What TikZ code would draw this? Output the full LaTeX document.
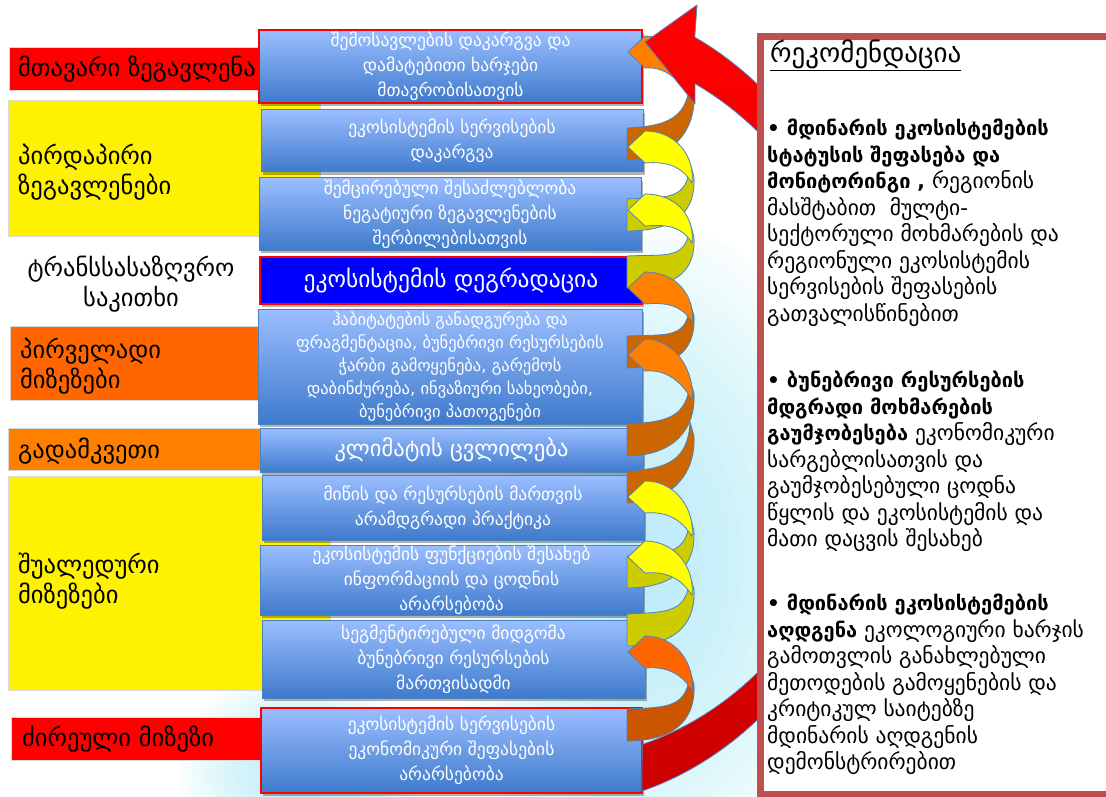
\documentclass[tikz,border=0pt]{standalone}
\usepackage{fontspec}
\setmainfont{DejaVu Sans}
\usetikzlibrary{shadows,calc}
\definecolor{boxtop}{RGB}{155,190,255}
\definecolor{boxbot}{RGB}{62,122,204}
\definecolor{boxline}{RGB}{79,129,189}
\definecolor{orf}{RGB}{255,128,0}
\definecolor{orb}{RGB}{204,102,0}
\definecolor{yef}{RGB}{255,255,0}
\definecolor{yeb}{RGB}{204,204,0}
\definecolor{ortf}{RGB}{255,102,0}
\definecolor{ortb}{RGB}{204,85,0}
\definecolor{recline}{RGB}{192,80,77}
\definecolor{glow}{RGB}{170,236,250}
\definecolor{darkred}{RGB}{204,0,0}
\definecolor{lorange}{RGB}{255,102,0}
\definecolor{morange}{RGB}{255,128,0}
\definecolor{pureblue}{RGB}{0,0,255}
\tikzset{
 bbox/.style={draw=boxline, line width=1pt, top color=boxtop, bottom color=boxbot, text=white, align=center, inner sep=0pt, font=\fontsize{17.5}{25}\selectfont, drop shadow={shadow xshift=2pt,shadow yshift=-3pt,opacity=0.3,fill=black}},
 redbox/.style={bbox, draw=red, line width=1.5pt},
 lbox/.style={draw=black!15, line width=0.6pt, anchor=north west, inner sep=0pt},
 ltxt/.style={font=\fontsize{24.5}{30}\selectfont, align=left, inner sep=0pt, anchor=west},
 rtxt/.style={font=\fontsize{21.5}{26.5}\selectfont, align=left, inner sep=0pt, anchor=north west},
 rib/.style={draw=boxline, line width=0.8pt, line join=round},
 glowlayer/.style={fill=glow, opacity=0.06},
}
\newcommand\bt[1]{{\fontsize{20}{26.5}\selectfont\bfseries #1}}
\newcommand\ribbon[4]{%
 \pgfmathsetmacro\yh{#1}\pgfmathsetmacro\yt{#2}\pgfmathsetmacro\ym{(#1+#2)/2}%
 \filldraw[rib, fill=#4] (627,\yt-16) .. controls (668,\yt-18) and (688,\ym+20) .. (690,\ym-18) -- (694,\ym-4) .. controls (696,\ym+35) and (670,\yt+16) .. (627,\yt+16) -- cycle;
 \filldraw[rib, fill=#3] (628,\yh) -- (645,\yh-16) .. controls (676,\yh-16) and (695,\ym-25) .. (692,\ym+2) .. controls (682,\ym-14) and (668,\yh+14) .. (645,\yh+16) -- cycle;
}
\newcommand\backribbon[3]{%
 \pgfmathsetmacro\ym{#1}\pgfmathsetmacro\yt{#2}%
 \filldraw[rib, fill=#3] (627,\yt-16) .. controls (668,\yt-18) and (688,\ym+20) .. (690,\ym-18) -- (694,\ym-4) .. controls (696,\ym+35) and (670,\yt+16) .. (627,\yt+16) -- cycle;
}
\begin{document}
\begin{tikzpicture}[x=1pt,y=-1pt]
\useasboundingbox (0,0) rectangle (1106,797);
\fill[white] (0,0) rectangle (1106,797);
% background glow
\foreach \i in {1,...,20}{
 \fill[glowlayer] (650,560) ellipse [x radius={205*\i/20}, y radius={340*\i/20}];
 \fill[glowlayer] (300,770) ellipse [x radius={120*\i/20}, y radius={100*\i/20}];
}
% left label boxes
\node[lbox, fill=red, minimum width=291pt, minimum height=43pt] (l1) at (9,47) {};
\node[lbox, fill=yellow, minimum width=312pt, minimum height=136pt] (l2) at (8,100) {};
\node[lbox, fill=lorange, minimum width=290pt, minimum height=74pt] (l4) at (10,326) {};
\node[lbox, fill=morange, minimum width=292pt, minimum height=42pt] (l5) at (8,428) {};
\node[lbox, fill=yellow, minimum width=322pt, minimum height=214pt] (l6) at (8,476) {};
\node[lbox, fill=red, minimum width=289pt, minimum height=43pt] (l7) at (11,717) {};
\node[ltxt] (t1) at (18,69) {მთავარი ზეგავლენა};
\node[ltxt] (t2) at (18,172) {პირდაპირი\\ზეგავლენები};
\node[ltxt, anchor=center, align=center] (t3) at (131,284) {ტრანსსასაზღვრო\\საკითხი};
\node[ltxt] (t4) at (20,366) {პირველადი\\მიზეზები};
\node[ltxt] (t5) at (18,451) {გადამკვეთი};
\node[ltxt] (t6) at (18,581) {შუალედური\\მიზეზები};
\node[ltxt] (t7) at (22,739) {ძირეული მიზეზი};
% blue boxes
\node[redbox, minimum width=383pt, minimum height=73pt] (b1) at (450.5,66.5) {შემოსავლების დაკარგვა და\\დამატებითი ხარჯები\\მთავრობისათვის};
\node[bbox, minimum width=382pt, minimum height=62pt] (b2) at (452,141) {ეკოსისტემის სერვისების\\დაკარგვა};
\node[bbox, minimum width=382pt, minimum height=72pt] (b3) at (450,214) {შემცირებული შესაძლებლობა\\ნეგატიური ზეგავლენების\\შერბილებისათვის};
\node[bbox, draw=red, line width=1.5pt, fill=pureblue, top color=pureblue, bottom color=pureblue, minimum width=382pt, minimum height=47pt, font=\fontsize{23.5}{25}\selectfont] (b4) at (451,280.5) {ეკოსისტემის დეგრადაცია};
\node[bbox, minimum width=384pt, minimum height=115pt, font=\fontsize{16.5}{23}\selectfont] (b5) at (450,366.5) {ჰაბიტატების განადგურება და\\ფრაგმენტაცია, ბუნებრივი რესურსების\\ჭარბი გამოყენება, გარემოს\\დაბინძურება, ინვაზიური სახეობები,\\ბუნებრივი პათოგენები};
\node[bbox, minimum width=383pt, minimum height=44pt, font=\fontsize{22.5}{25}\selectfont] (b6) at (451.5,450) {კლიმატის ცვლილება};
\node[bbox, minimum width=382pt, minimum height=65pt] (b7) at (453,507.5) {მიწის და რესურსების მართვის\\არამდგრადი პრაქტიკა};
\node[bbox, minimum width=383pt, minimum height=70pt] (b8) at (451.5,580) {ეკოსისტემის ფუნქციების შესახებ\\ინფორმაციის და ცოდნის\\არარსებობა};
\node[bbox, minimum width=383pt, minimum height=78pt] (b9) at (453.5,659) {სეგმენტირებული მიდგომა\\ბუნებრივი რესურსების\\მართვისადმი};
\node[redbox, minimum width=381pt, minimum height=85pt] (b10) at (451.5,750.5) {ეკოსისტემის სერვისების\\ეკონომიკური შეფასების\\არარსებობა};
% ribbons
\ribbon{52}{144}{orf}{orb}
\ribbon{147}{215}{yef}{yeb}
\ribbon{210}{272}{yef}{yeb}
\ribbon{288}{352}{orf}{orb}
\ribbon{355}{440}{orf}{orb}
\backribbon{440}{487}{orb}
\ribbon{497}{572}{yef}{yeb}
\ribbon{557}{630}{yef}{yeb}
\ribbon{652}{725}{ortf}{ortb}
% big red arrow
\path[draw=boxline, line width=0.8pt, line join=round, top color=red, middle color=red, bottom color=darkred]
 (645,42) -- (697,5) -- ({550+335*cos(-64.4)},{402+404.6*sin(-64.4)})
 -- plot[domain=-64.4:74.06, samples=80] ({550+335*cos(\x)},{402+404.6*sin(\x)})
 -- plot[domain=73.1:-62.8, samples=80] ({550+317*cos(\x)},{402+358*sin(\x)})
 -- (695,104) -- cycle;
% right panel
\node[draw=recline, line width=7pt, fill=white, anchor=north west, minimum width=360pt, minimum height=757pt, inner sep=0pt] (panel) at (756.5,33.5) {};
\node[anchor=west, inner sep=0pt, font=\fontsize{27}{30}\selectfont] (rtitle) at (770,55) {\underline{რეკომენდაცია}};
\node[rtxt] (p1) at (767,119) {\bt{• მდინარის ეკოსისტემების}\\\bt{სტატუსის შეფასება და}\\\bt{მონიტორინგი ,} რეგიონის\\მასშტაბით~~მულტი-\\სექტორული მოხმარების და\\რეგიონული ეკოსისტემის\\სერვისების შეფასების\\გათვალისწინებით};
\node[rtxt] (p2) at (767,371) {\bt{• ბუნებრივი რესურსების}\\\bt{მდგრადი მოხმარების}\\\bt{გაუმჯობესება} ეკონომიკური\\სარგებლისათვის და\\გაუმჯობესებული ცოდნა\\წყლის და ეკოსისტემის და\\მათი დაცვის შესახებ};
\node[rtxt] (p3) at (767,594) {\bt{• მდინარის ეკოსისტემების}\\\bt{აღდგენა} ეკოლოგიური ხარჯის\\გამოთვლის განახლებული\\მეთოდების გამოყენების და\\კრიტიკულ საიტებზე\\მდინარის აღდგენის\\დემონსტრირებით};
\end{tikzpicture}
\end{document}
